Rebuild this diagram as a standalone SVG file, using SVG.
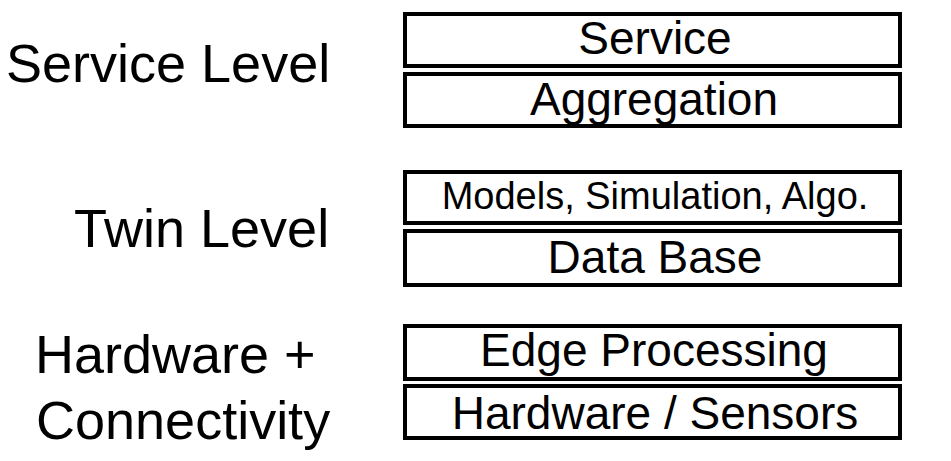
<svg xmlns="http://www.w3.org/2000/svg" width="951" height="461" viewBox="0 0 951 461">
<style>
.box{fill:#fff;stroke:#000;stroke-width:4}
.t{font-family:"Liberation Sans",Arial,sans-serif;fill:#000;text-anchor:middle;font-size:46px}
.lbl{font-family:"Liberation Sans",Arial,sans-serif;fill:#000;font-size:54px}
</style>
<rect width="951" height="461" fill="#fff"/>
<g id="labels">
<text class="lbl" x="6" y="82">Service Level</text>
<text class="lbl" x="74" y="247">Twin Level</text>
<text class="lbl" x="35" y="373">Hardware +</text>
<text class="lbl" x="36" y="439">Connectivity</text>
</g>
<g id="service"><rect class="box" x="405" y="14" width="495" height="52"/><text class="t" x="655" y="54">Service</text></g>
<g id="aggregation"><rect class="box" x="405" y="74" width="495" height="52"/><text class="t" x="654" y="115">Aggregation</text></g>
<g id="models"><rect class="box" x="405" y="172" width="495" height="51"/><text class="t" x="655" y="209" style="font-size:38px">Models, Simulation, Algo.</text></g>
<g id="database"><rect class="box" x="405" y="231" width="495" height="54"/><text class="t" x="655" y="273">Data Base</text></g>
<g id="edge"><rect class="box" x="405" y="326" width="495" height="53"/><text class="t" x="654" y="366">Edge Processing</text></g>
<g id="hardware"><rect class="box" x="405" y="386" width="495" height="52"/><text class="t" x="655" y="429">Hardware / Sensors</text></g>
<g id="connectors"></g>
</svg>
